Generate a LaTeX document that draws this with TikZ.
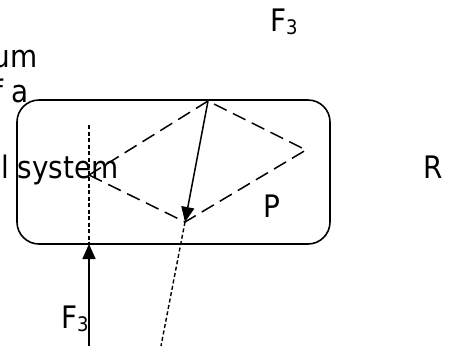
\documentclass[tikz,border=0pt]{standalone}
\usepackage{fontspec}
\setmainfont{DejaVu Sans Condensed}
\usetikzlibrary{arrows.meta}
\begin{document}
\begin{tikzpicture}[x=1pt,y=-1pt,
  lbl/.style={inner sep=0pt, font=\fontsize{31}{31}\selectfont},
  boxline/.style={line width=1.6pt},
  dashline/.style={line width=1.5pt, dash pattern=on 14pt off 7pt},
  dotline/.style={line width=1.4pt, dash pattern=on 4pt off 2.5pt},
  arr/.style={line width=1.5pt, -{Triangle[length=15pt,width=13pt]}}]
\useasboundingbox (0,0) rectangle (450,346);
\clip (0,0) rectangle (450,346);
% system box
\node[draw, boxline, rounded corners=22pt, minimum width=313pt, minimum height=144pt, inner sep=0pt] (box) at (173.5,172) {};
% diamond vertices
\coordinate (dT) at (208,101);
\coordinate (dR) at (306,150);
\coordinate (dB) at (185,222);
\coordinate (dL) at (89,175);
\draw[dashline] (dL) -- (dT) -- (dR) -- (dB) -- cycle;
\draw[arr] (dT) -- (dB);
\coordinate (dotEnd) at (161,346);
\draw[dotline] (dB) -- (dotEnd);
% vertical line and F3 arrow
\coordinate (vTop) at (89,125);
\coordinate (vBot) at (89,244);
\coordinate (fStart) at (89,346);
\draw[dotline] (vTop) -- (vBot);
\draw[arr] (fStart) -- (vBot);
% labels
\node[lbl, anchor=base east] (um) at (38,67) {um};
\node[lbl, anchor=base east] (fa) at (29,102) {f a};
\node[lbl, anchor=base west] (sys) at (1,178) {l system};
\node[lbl, anchor=base west] (P) at (263,217) {P};
\node[lbl, anchor=base west] (R) at (423,178) {R};
\node[lbl, anchor=base west] (f3top) at (270,31) {F\raisebox{-3pt}{\fontsize{20}{20}\selectfont 3}};
\node[lbl, anchor=base west] (f3bot) at (61,328) {F\raisebox{-3pt}{\fontsize{20}{20}\selectfont 3}};
\end{tikzpicture}
\end{document}
